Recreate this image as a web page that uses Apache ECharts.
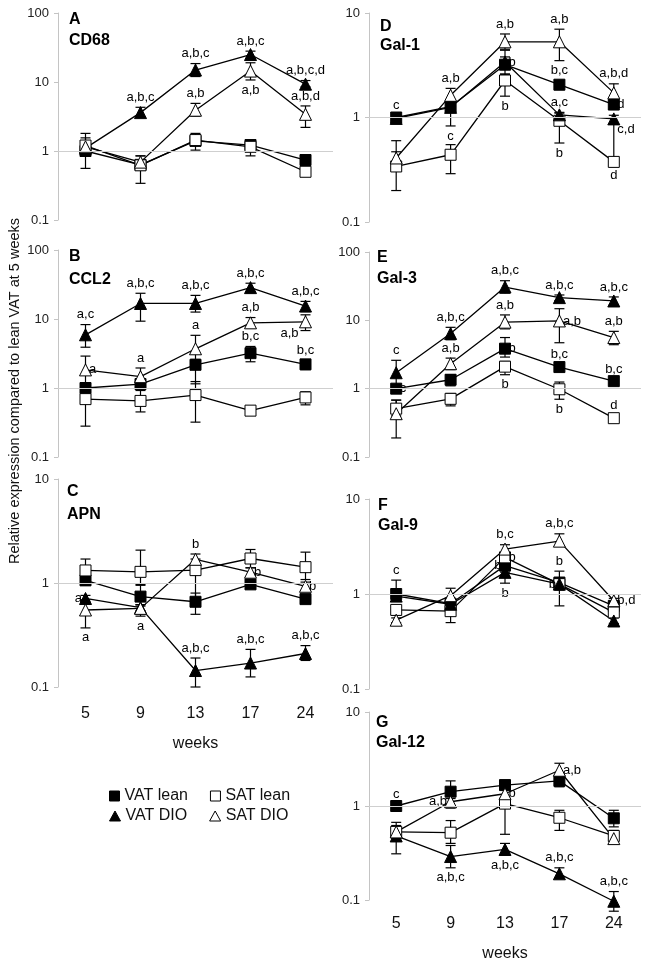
<!DOCTYPE html>
<html>
<head>
<meta charset="utf-8">
<title>macrophage and galectin expression</title>
<script src="https://cdn.jsdelivr.net/npm/echarts@6/dist/echarts.min.js"></script>
<style>
  html, body { margin: 0; padding: 0; background: #fff; }
  #chart { width: 651px; height: 966px; }
</style>
</head>
<body>
<div id="chart"></div>
<script>
var weeks = ['5', '9', '13', '17', '24'];
var groups = ['VAT lean', 'SAT lean', 'VAT DIO', 'SAT DIO'];

// A - CD68
var cd68VatLean = [1.0, 0.63, 1.4, 1.22, 0.74];
var cd68SatLean = [1.2, 0.62, 1.44, 1.15, 0.5];
var cd68VatDio = [1.1, 3.6, 14.9, 25, 9.3];
var cd68SatDio = [1.15, 0.69, 3.9, 14.4, 3.4];
var cd68VatLeanErr = [[0.9, 1.1], [0.58, 0.68], [1.3, 1.5], [1.12, 1.32], [0.68, 0.8]];
var cd68SatLeanErr = [[0.56, 1.8], [0.34, 0.85], [1.03, 1.8], [0.85, 1.35], [0.46, 0.54]];
var cd68VatDioErr = [[1.0, 1.2], [3.1, 4.3], [12, 18.5], [22, 28], [8.5, 10.5]];
var cd68SatDioErr = [[0.9, 1.55], [0.6, 0.85], [3.2, 4.9], [10.7, 19], [2.2, 4.5]];
var cd68Notes = [[1, 4.3, 'a,b,c', 'top'], [2, 18.5, 'a,b,c', 'top'], [2, 4.9, 'a,b', 'top'],
  [3, 28, 'a,b,c', 'top'], [3, 10.7, 'a,b', 'bottom'], [4, 10.5, 'a,b,c,d', 'top'], [4, 4.5, 'a,b,d', 'top']];

// B - CCL2
var ccl2VatLean = [1.0, 1.14, 2.17, 3.2, 2.2];
var ccl2SatLean = [0.69, 0.65, 0.79, 0.47, 0.73];
var ccl2VatDio = [5.9, 16.8, 16.8, 28.5, 15.4];
var ccl2SatDio = [1.83, 1.46, 3.7, 8.8, 9.1];
var ccl2VatLeanErr = [[0.95, 1.05], [1.0, 1.3], [1.15, 2.6], [2.4, 4.0], [1.85, 2.5]];
var ccl2SatLeanErr = [[0.28, 0.9], [0.45, 0.92], [0.32, 1.24], [0.44, 0.5], [0.57, 0.88]];
var ccl2VatDioErr = [[3.9, 8.3], [9.3, 23.6], [12.6, 22], [24, 33], [12.8, 18]];
var ccl2SatDioErr = [[1.18, 2.9], [1.1, 1.95], [2.2, 5.8], [7.5, 10.5], [6.8, 11.5]];
var ccl2Notes = [[0, 8.3, 'a,c', 'top'], [0, 1.83, 'a', 'right'], [1, 23.6, 'a,b,c', 'top'], [1, 1.95, 'a', 'top'],
  [2, 22, 'a,b,c', 'top'], [2, 5.8, 'a', 'top'], [3, 33, 'a,b,c', 'top'], [3, 10.5, 'a,b', 'top'],
  [3, 4.0, 'b,c', 'top'], [4, 18, 'a,b,c', 'top'], [4, 9.1, 'a,b', 'bottom', -16, 2], [4, 2.5, 'b,c', 'top']];

// C - APN
var apnVatLean = [1.06, 0.74, 0.66, 0.97, 0.70];
var apnSatLean = [1.32, 1.28, 1.33, 1.72, 1.42];
var apnVatDio = [0.71, 0.58, 0.144, 0.17, 0.21];
var apnSatDio = [0.55, 0.57, 1.69, 1.27, 0.93];
var apnVatLeanErr = [[0.95, 1.15], [0.6, 0.95], [0.5, 0.8], [0.93, 1.02], [0.66, 0.75]];
var apnSatLeanErr = [[1.0, 1.7], [0.97, 2.07], [0.67, 1.7], [1.4, 2.1], [1.08, 1.98]];
var apnVatDioErr = [[0.66, 0.76], [0.54, 0.62], [0.1, 0.19], [0.125, 0.23], [0.18, 0.25]];
var apnSatDioErr = [[0.37, 0.69], [0.48, 0.62], [1.5, 1.9], [1.15, 1.4], [0.85, 1.02]];
var apnNotes = [[0, 0.71, 'a', 'left'], [0, 0.37, 'a', 'bottom'], [1, 0.48, 'a', 'bottom'], [2, 1.9, 'b', 'top'],
  [3, 1.27, 'b', 'right'], [4, 0.93, 'b', 'right'], [2, 0.19, 'a,b,c', 'top'], [3, 0.23, 'a,b,c', 'top'],
  [4, 0.25, 'a,b,c', 'top']];

// D - Gal-1
var gal1VatLean = [1.0, 1.27, 3.2, 2.06, 1.33];
var gal1SatLean = [0.34, 0.44, 2.26, 0.93, 0.376];
var gal1VatDio = [0.98, 1.25, 3.4, 1.06, 0.97];
var gal1SatDio = [0.41, 1.63, 5.3, 5.3, 1.72];
var gal1VatLeanErr = [[0.95, 1.05], [0.83, 1.4], [2.6, 3.8], [1.85, 2.25], [1.2, 1.45]];
var gal1SatLeanErr = [[0.2, 0.6], [0.29, 0.55], [1.6, 2.6], [0.57, 1.1], [0.35, 0.4]];
var gal1VatDioErr = [[0.93, 1.03], [1.15, 1.35], [2.9, 4.4], [1.0, 1.12], [0.38, 1.05]];
var gal1SatDioErr = [[0.35, 0.47], [1.4, 1.9], [4.5, 6.3], [3.5, 7.0], [1.5, 2.1]];
var gal1Notes = [[0, 1.05, 'c', 'top'], [1, 1.9, 'a,b', 'top'], [1, 0.83, 'c', 'bottom'], [2, 6.3, 'a,b', 'top'],
  [2, 3.4, 'b', 'right'], [2, 1.6, 'b', 'bottom'], [3, 7.0, 'a,b', 'top'], [3, 2.25, 'b,c', 'top'],
  [3, 1.12, 'a,c', 'top'], [3, 0.57, 'b', 'bottom'], [4, 2.1, 'a,b,d', 'top'], [4, 1.33, 'd', 'right'],
  [4, 0.97, 'c,d', 'right', 0, 11], [4, 0.35, 'd', 'bottom']];

// E - Gal-3
var gal3VatLean = [1.0, 1.35, 3.85, 2.07, 1.29];
var gal3SatLean = [0.51, 0.71, 2.1, 0.98, 0.37];
var gal3VatDio = [1.71, 6.4, 30.7, 21.5, 19.2];
var gal3SatDio = [0.43, 2.32, 9.4, 9.8, 5.6];
var gal3VatLeanErr = [[0.95, 1.05], [1.1, 1.6], [2.9, 5.6], [1.8, 2.3], [1.2, 1.38]];
var gal3SatLeanErr = [[0.4, 0.68], [0.56, 0.85], [1.6, 2.5], [0.7, 1.25], [0.34, 0.4]];
var gal3VatDioErr = [[1.0, 2.6], [5.2, 7.9], [25, 38], [19.5, 23.5], [17, 22]];
var gal3SatDioErr = [[0.19, 0.68], [1.9, 2.8], [7.5, 12], [4.7, 14.8], [4.4, 6.9]];
var gal3Notes = [[0, 2.6, 'c', 'top'], [0, 1.0, 'c', 'right'], [1, 7.9, 'a,b,c', 'top'], [1, 2.8, 'a,b', 'top'],
  [2, 38, 'a,b,c', 'top'], [2, 12, 'a,b', 'top'], [2, 3.85, 'b', 'right'], [2, 1.6, 'b', 'bottom'],
  [3, 23.5, 'a,b,c', 'top'], [3, 9.8, 'a,b', 'right'], [3, 2.3, 'b,c', 'top'], [3, 0.7, 'b', 'bottom'],
  [4, 22, 'a,b,c', 'top'], [4, 6.9, 'a,b', 'top'], [4, 1.38, 'b,c', 'top'], [4, 0.4, 'd', 'top']];

// F - Gal-9
var gal9VatLean = [1.0, 0.79, 1.99, 1.32, 0.75];
var gal9SatLean = [0.68, 0.66, 2.43, 1.27, 0.64];
var gal9VatDio = [0.95, 0.78, 1.69, 1.27, 0.52];
var gal9SatDio = [0.53, 0.96, 2.97, 3.6, 0.85];
var gal9VatLeanErr = [[0.85, 1.4], [0.7, 0.9], [1.7, 2.3], [1.1, 1.74], [0.68, 0.82]];
var gal9SatLeanErr = [[0.6, 0.76], [0.5, 0.75], [2.1, 2.7], [0.75, 1.45], [0.58, 0.7]];
var gal9VatDioErr = [[0.9, 1.0], [0.72, 0.84], [1.3, 1.9], [1.15, 1.4], [0.49, 0.56]];
var gal9SatDioErr = [[0.5, 0.56], [0.85, 1.15], [2.6, 3.3], [3.2, 4.3], [0.8, 0.9]];
var gal9Notes = [[0, 1.4, 'c', 'top'], [2, 3.3, 'b,c', 'top'], [2, 2.43, 'b', 'right'], [2, 1.99, 'b', 'left'],
  [2, 1.3, 'b', 'bottom'], [3, 4.3, 'a,b,c', 'top'], [3, 1.74, 'b', 'top'], [3, 1.27, 'b', 'left'],
  [4, 0.85, 'b,d', 'right']];

// G - Gal-12
var gal12VatLean = [1.0, 1.42, 1.67, 1.85, 0.74];
var gal12SatLean = [0.53, 0.52, 1.06, 0.75, 0.48];
var gal12VatDio = [0.48, 0.29, 0.345, 0.19, 0.097];
var gal12SatDio = [0.53, 1.11, 1.35, 2.4, 0.45];
var gal12VatLeanErr = [[0.95, 1.05], [1.2, 1.85], [1.5, 1.8], [1.6, 2.1], [0.6, 0.9]];
var gal12SatLeanErr = [[0.45, 0.62], [0.4, 0.7], [0.5, 1.2], [0.55, 0.9], [0.42, 0.55]];
var gal12VatDioErr = [[0.31, 0.67], [0.22, 0.38], [0.3, 0.4], [0.17, 0.22], [0.076, 0.123]];
var gal12SatDioErr = [[0.48, 0.6], [0.95, 1.3], [1.2, 1.5], [2.1, 2.85], [0.4, 0.52]];
var gal12Notes = [[0, 1.05, 'c', 'top'], [1, 1.11, 'a,b', 'left'], [1, 0.22, 'a,b,c', 'bottom'],
  [2, 1.35, 'b', 'right'], [2, 0.3, 'a,b,c', 'bottom'], [3, 2.4, 'a,b', 'right'],
  [3, 0.22, 'a,b,c', 'top'], [4, 0.123, 'a,b,c', 'top']];

var FONT = '"Liberation Sans", Arial, sans-serif';

// layout of the seven panels
var panels = [
  { letter: 'A', gene: 'CD68', max: 100, left: 58, top: 13, width: 275, height: 207, tx: 69, ty: 21, gy: 42,
    means: [cd68VatLean, cd68SatLean, cd68VatDio, cd68SatDio],
    errs: [cd68VatLeanErr, cd68SatLeanErr, cd68VatDioErr, cd68SatDioErr], notes: cd68Notes },
  { letter: 'B', gene: 'CCL2', max: 100, left: 58, top: 250, width: 275, height: 207, tx: 69, ty: 258, gy: 281,
    means: [ccl2VatLean, ccl2SatLean, ccl2VatDio, ccl2SatDio],
    errs: [ccl2VatLeanErr, ccl2SatLeanErr, ccl2VatDioErr, ccl2SatDioErr], notes: ccl2Notes },
  { letter: 'C', gene: 'APN', max: 10, left: 58, top: 479, width: 275, height: 208, tx: 67, ty: 493, gy: 516,
    means: [apnVatLean, apnSatLean, apnVatDio, apnSatDio],
    errs: [apnVatLeanErr, apnSatLeanErr, apnVatDioErr, apnSatDioErr], notes: apnNotes,
    labels: true, labelMargin: 19, nameGap: 49 },
  { letter: 'D', gene: 'Gal-1', max: 10, left: 369, top: 13, width: 272, height: 209, tx: 380, ty: 28, gy: 47,
    means: [gal1VatLean, gal1SatLean, gal1VatDio, gal1SatDio],
    errs: [gal1VatLeanErr, gal1SatLeanErr, gal1VatDioErr, gal1SatDioErr], notes: gal1Notes },
  { letter: 'E', gene: 'Gal-3', max: 100, left: 369, top: 252, width: 272, height: 205, tx: 377, ty: 259, gy: 280,
    means: [gal3VatLean, gal3SatLean, gal3VatDio, gal3SatDio],
    errs: [gal3VatLeanErr, gal3SatLeanErr, gal3VatDioErr, gal3SatDioErr], notes: gal3Notes },
  { letter: 'F', gene: 'Gal-9', max: 10, left: 369, top: 499, width: 272, height: 190, tx: 378, ty: 507, gy: 527,
    means: [gal9VatLean, gal9SatLean, gal9VatDio, gal9SatDio],
    errs: [gal9VatLeanErr, gal9SatLeanErr, gal9VatDioErr, gal9SatDioErr], notes: gal9Notes },
  { letter: 'G', gene: 'Gal-12', max: 10, left: 369, top: 712, width: 272, height: 188, tx: 376, ty: 724, gy: 744,
    means: [gal12VatLean, gal12SatLean, gal12VatDio, gal12SatDio],
    errs: [gal12VatLeanErr, gal12SatLeanErr, gal12VatDioErr, gal12SatDioErr], notes: gal12Notes,
    labels: true, labelMargin: 16, nameGap: 46 }
];

var styles = [
  { symbol: 'rect', size: 11, fill: '#000' },
  { symbol: 'rect', size: 11, fill: '#fff' },
  { symbol: 'triangle', size: 12, fill: '#000' },
  { symbol: 'triangle', size: 12, fill: '#fff' }
];

function errorBar(params, api) {
  var x = api.value(0);
  var lo = api.coord([x, api.value(1)]);
  var hi = api.coord([x, api.value(2)]);
  var w = 5;
  var st = { stroke: '#000', lineWidth: 1.2 };
  return {
    type: 'group',
    children: [
      { type: 'line', shape: { x1: lo[0], y1: lo[1], x2: hi[0], y2: hi[1] }, style: st },
      { type: 'line', shape: { x1: lo[0] - w, y1: lo[1], x2: lo[0] + w, y2: lo[1] }, style: st },
      { type: 'line', shape: { x1: hi[0] - w, y1: hi[1], x2: hi[0] + w, y2: hi[1] }, style: st }
    ]
  };
}

var grids = [], xAxes = [], yAxes = [], series = [], graphics = [];

panels.forEach(function (p, k) {
  grids.push({ left: p.left, top: p.top, width: p.width, height: p.height });
  xAxes.push({
    type: 'category', gridIndex: k, data: weeks,
    axisLine: { show: false }, axisTick: { show: false },
    axisLabel: { show: !!p.labels, margin: p.labelMargin || 8, fontSize: 16, color: '#111', fontFamily: FONT },
    name: p.labels ? 'weeks' : '', nameLocation: 'middle', nameGap: p.nameGap || 30,
    nameTextStyle: { fontSize: 16, color: '#111', fontFamily: FONT }
  });
  yAxes.push({
    type: 'log', logBase: 10, gridIndex: k, min: 0.1, max: p.max,
    axisLine: { show: true, lineStyle: { color: '#c4c4c4' } },
    axisTick: { show: true, length: 4, lineStyle: { color: '#c4c4c4' } },
    axisLabel: { fontSize: 13, color: '#222', margin: 9, fontFamily: FONT },
    splitLine: { show: false }
  });

  p.errs.forEach(function (e, g) {
    series.push({
      type: 'custom', name: groups[g], xAxisIndex: k, yAxisIndex: k, z: 2, clip: false,
      renderItem: errorBar, encode: { x: 0, y: [1, 2] },
      data: e.map(function (d, i) { return [i, d[0], d[1]]; }),
      silent: true
    });
  });

  p.means.forEach(function (m, g) {
    var s = styles[g];
    var item = {
      type: 'line', name: groups[g], xAxisIndex: k, yAxisIndex: k, z: 3, clip: false,
      data: m, symbol: s.symbol, symbolSize: s.size, showAllSymbol: true,
      lineStyle: { color: '#000', width: 1.3 },
      itemStyle: { color: s.fill, borderColor: '#000', borderWidth: 1 },
      animation: false
    };
    if (g === 0) {
      item.markLine = {
        silent: true, symbol: 'none', label: { show: false },
        lineStyle: { color: '#cfcfcf', width: 1, type: 'solid' },
        data: [{ yAxis: 1 }]
      };
    }
    series.push(item);
  });

  series.push({
    type: 'scatter', name: 'notes', xAxisIndex: k, yAxisIndex: k, z: 4, clip: false,
    symbolSize: 1, itemStyle: { color: 'rgba(0,0,0,0)', opacity: 1 }, silent: true,
    label: { show: true, formatter: '{b}', fontSize: 13, color: '#000', distance: 3, fontFamily: FONT },
    data: p.notes.map(function (n) {
      return {
        name: n[2], value: [n[0], n[1]],
        label: { position: n[3], offset: [n[4] || 0, n[5] || 0] }
      };
    })
  });

  graphics.push({ type: 'text', left: p.tx, top: p.ty - 9,
    style: { text: p.letter, font: 'bold 16px ' + FONT, fill: '#000' } });
  graphics.push({ type: 'text', left: p.tx, top: p.gy - 9,
    style: { text: p.gene, font: 'bold 16px ' + FONT, fill: '#000' } });
});

graphics.push({
  type: 'text', x: 15, y: 391, rotation: Math.PI / 2,
  style: { text: 'Relative expression compared to lean VAT at 5 weeks', font: '14.5px ' + FONT,
    fill: '#111', align: 'center', verticalAlign: 'middle' }
});

var legendText = { fontSize: 16, color: '#111', fontFamily: FONT };
var option = {
  animation: false,
  backgroundColor: '#fff',
  grid: grids,
  xAxis: xAxes,
  yAxis: yAxes,
  graphic: graphics,
  legend: [
    { left: 104, top: 783, itemWidth: 10, itemHeight: 10, itemGap: 22, selectedMode: false, textStyle: legendText,
      data: [
        { name: 'VAT lean', icon: 'rect', itemStyle: { color: '#000', borderColor: '#000', borderWidth: 1 } },
        { name: 'SAT lean', icon: 'rect', itemStyle: { color: '#fff', borderColor: '#000', borderWidth: 1 } }
      ] },
    { left: 104, top: 803, itemWidth: 11, itemHeight: 10, itemGap: 22, selectedMode: false, textStyle: legendText,
      data: [
        { name: 'VAT DIO', icon: 'triangle', itemStyle: { color: '#000', borderColor: '#000', borderWidth: 1 } },
        { name: 'SAT DIO', icon: 'triangle', itemStyle: { color: '#fff', borderColor: '#000', borderWidth: 1 } }
      ] }
  ],
  series: series
};

var chart = echarts.init(document.getElementById('chart'));
chart.setOption(option);
</script>
</body>
</html>
